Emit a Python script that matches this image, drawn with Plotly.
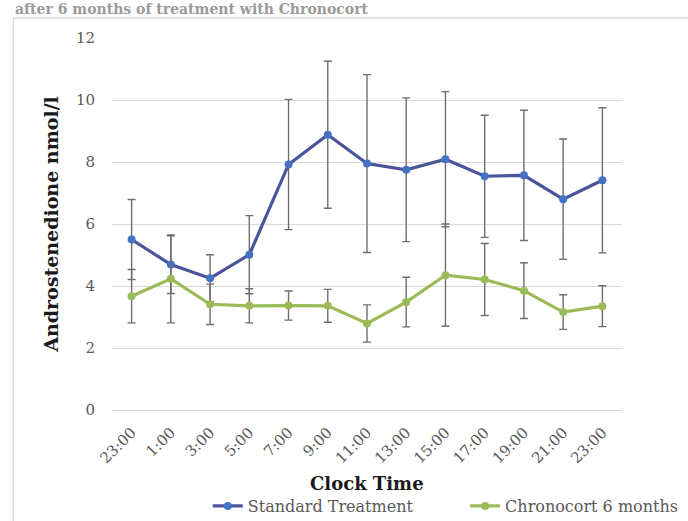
import plotly.graph_objects as go

# Sampling clock times (24 h profile starting at 23:00)
clock_times = ["23:00", "1:00", "3:00", "5:00", "7:00", "9:00", "11:00",
               "13:00", "15:00", "17:00", "19:00", "21:00", "23:00"]
sample_index = list(range(len(clock_times)))

# Mean androstenedione (nmol/l) and error (+/-)
standard_mean = [5.50, 4.69, 4.25, 5.01, 7.92, 8.88, 7.95, 7.75, 8.09, 7.54, 7.57, 6.80, 7.41]
standard_err = [1.29, 0.93, 0.76, 1.26, 2.10, 2.37, 2.87, 2.32, 2.18, 1.97, 2.10, 1.94, 2.34]

chrono_mean = [3.67, 4.23, 3.41, 3.36, 3.37, 3.36, 2.79, 3.48, 4.35, 4.21, 3.85, 3.16, 3.35]
chrono_err = [0.86, 1.42, 0.65, 0.55, 0.47, 0.53, 0.60, 0.80, 1.65, 1.16, 0.90, 0.56, 0.66]

serif = "DejaVu Serif"
grey_text = "#595959"
err_style = dict(type="data", visible=True, color="#6e6e6e", thickness=1.4, width=4)

fig = go.Figure()

fig.add_trace(go.Scatter(
    x=sample_index, y=standard_mean, name="Standard Treatment",
    mode="lines+markers", legend="legend",
    line=dict(color="#4a549a", width=3.2),
    marker=dict(color="#4472c4", size=8),
    error_y=dict(array=standard_err, **err_style),
))

fig.add_trace(go.Scatter(
    x=sample_index, y=chrono_mean, name="Chronocort 6 months",
    mode="lines+markers", legend="legend2",
    line=dict(color="#9bbb59", width=3.2),
    marker=dict(color="#9bbb59", size=8),
    error_y=dict(array=chrono_err, **err_style),
))

# light frame around the chart area
fig.add_shape(type="rect", xref="paper", yref="paper",
              x0=-0.1935, x1=1.16, y0=-0.33, y1=1.054,
              line=dict(color="#dcdcdc", width=1.5), fillcolor="rgba(0,0,0,0)",
              layer="below")

# running caption of the page above the chart
fig.add_annotation(text="<b>after 6 months of treatment with Chronocort</b>",
                   xref="paper", yref="paper", x=-0.195, y=1.052,
                   xanchor="left", yanchor="bottom", showarrow=False,
                   font=dict(family=serif, size=14, color="#9a9a9a"))

# x-axis title, set below the rotated clock-time labels
fig.add_annotation(text="<b>Clock Time</b>", xref="paper", yref="paper",
                   x=0.5, y=-0.2285, xanchor="center", yanchor="bottom",
                   showarrow=False, borderpad=0,
                   font=dict(family=serif, size=18, color="#1a1a1a"))

legend_common = dict(orientation="h", xref="container", yref="container",
                     yanchor="middle", y=0.0288, xanchor="left",
                     font=dict(family=serif, size=16, color=grey_text),
                     bgcolor="rgba(0,0,0,0)", borderwidth=0)

fig.update_layout(
    width=688, height=521,
    margin=dict(l=112, r=66, t=38, b=111, pad=0),
    paper_bgcolor="white", plot_bgcolor="white",
    font=dict(family=serif, color=grey_text),
    showlegend=True,
    legend=dict(x=0.302, **legend_common),
    legend2=dict(x=0.676, **legend_common),
    xaxis=dict(
        range=[-0.5, 12.5], tickvals=sample_index, ticktext=clock_times,
        tickangle=-45, tickfont=dict(family=serif, size=15, color=grey_text),
        ticklabelstandoff=10,
        showgrid=False, showline=False, zeroline=False, ticks="",
        automargin=False,
    ),
    yaxis=dict(
        range=[0, 12], dtick=2, tick0=0,
        showgrid=True, gridcolor="#d9d9d9", gridwidth=1.3,
        zeroline=True, zerolinecolor="#d9d9d9", zerolinewidth=1.3,
        showline=False, ticks="", ticklabelstandoff=16,
        automargin=False,
        tickfont=dict(family=serif, size=15, color=grey_text),
        title=dict(text="<b>Androstenedione nmol/l</b>", standoff=12,
                   font=dict(family=serif, size=19, color="#1a1a1a")),
    ),
)

fig.write_html("out.html")
